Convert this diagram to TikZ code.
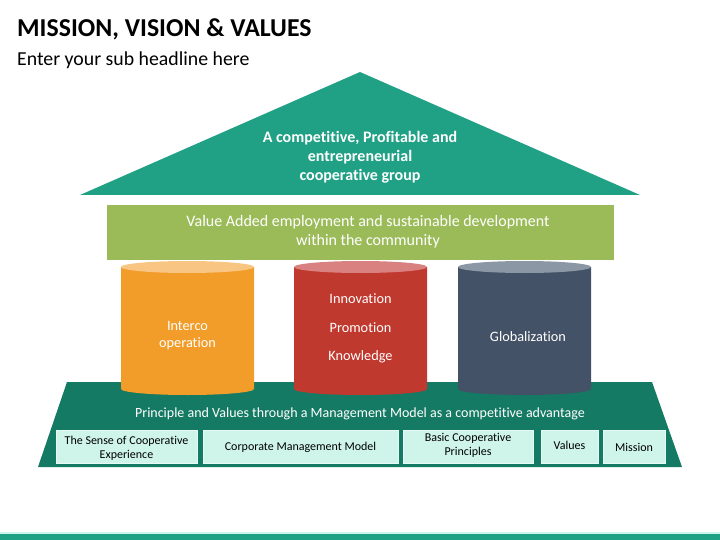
\documentclass[tikz,border=0pt]{standalone}
\usepackage{fontspec}
\setmainfont{Carlito}[Ligatures=NoCommon]
\definecolor{roof}{HTML}{20A085}
\definecolor{beam}{HTML}{9BBB59}
\definecolor{orangeb}{HTML}{F29D29}
\definecolor{oranget}{HTML}{F8C682}
\definecolor{redb}{HTML}{C0392F}
\definecolor{redt}{HTML}{D98080}
\definecolor{slateb}{HTML}{435266}
\definecolor{slatet}{HTML}{8B97A4}
\definecolor{basec}{HTML}{157A63}
\definecolor{boxc}{HTML}{CFF5EA}
\definecolor{boxl}{HTML}{E8FAF4}
\tikzset{
  wtext/.style={text=white, align=center, inner sep=0pt},
  btext/.style={text=black, align=center, inner sep=0pt, font=\fontsize{12}{14}\selectfont},
  pbox/.style={fill=boxc, draw=boxl, line width=0.8pt},
}
\newcommand{\pillar}[4]{%
  \fill[#3] (#1-#2,267) -- (#1-#2,389) arc[start angle=180,end angle=360,x radius=#2 pt,y radius=6pt] -- (#1+#2,267) -- cycle;
  \fill[#4] (#1,267) ellipse[x radius=#2 pt,y radius=6pt];
}
\begin{document}
\begin{tikzpicture}[x=1pt,y=-1pt]
\useasboundingbox (0,0) rectangle (720,540);
% title
\node[anchor=base west, inner sep=0pt, font=\fontsize{25.8}{28}\selectfont\bfseries] (title) at (17,37) {MISSION, VISION \& VALUES};
\node[anchor=base west, inner sep=0pt, font=\fontsize{19.8}{22}\selectfont] (sub) at (17,66) {Enter your sub headline here};
% roof
\fill[roof] (360,72) -- (640,195) -- (80,195) -- cycle;
\node[wtext, font=\fontsize{16}{19}\selectfont\bfseries] (rooftext) at (360,157) {A competitive, Profitable and\\entrepreneurial\\cooperative group};
% beam
\fill[beam] (107,205) rectangle (614,260);
\node[wtext, font=\fontsize{16}{19}\selectfont] (beamtext) at (368,232) {Value Added employment and sustainable development\\within the community};
% base
\fill[basec] (67,382) -- (652,382) -- (682,467) -- (38,467) -- cycle;
% pillars
\pillar{187.5}{66.5}{orangeb}{oranget}
\pillar{360.5}{66.5}{redb}{redt}
\pillar{524.5}{66.5}{slateb}{slatet}
\node[wtext, font=\fontsize{14.3}{17}\selectfont] (p1) at (187.5,336) {Interco\\operation};
\node[wtext, font=\fontsize{14.3}{16}\selectfont] (p2a) at (360.5,299) {Innovation};
\node[wtext, font=\fontsize{14.3}{16}\selectfont] (p2b) at (360.5,328) {Promotion};
\node[wtext, font=\fontsize{14.3}{16}\selectfont] (p2c) at (360.5,357) {Knowledge};
\node[wtext, font=\fontsize{14.3}{16}\selectfont] (p3) at (528,337) {Globalization};
\node[wtext, font=\fontsize{14}{16}\selectfont] (basetext) at (360,414) {Principle and Values through a Management Model as a competitive advantage};
% boxes
\draw[pbox] (56,430) rectangle (197,463);
\draw[pbox] (203,430) rectangle (398,463);
\draw[pbox] (403,430) rectangle (533,463);
\draw[pbox] (541,430) rectangle (598,463);
\draw[pbox] (603,430) rectangle (665,463);
\node[btext] (b1) at (126.5,448) {The Sense of Cooperative\\Experience};
\node[btext] (b2) at (300.5,447) {Corporate Management Model};
\node[btext] (b3) at (468,445) {Basic Cooperative\\Principles};
\node[btext] (b4) at (569.5,445) {Values};
\node[btext] (b5) at (634,447) {Mission};
% bottom strip
\fill[boxc] (0,532) rectangle (720,533.5);
\fill[roof] (0,533.5) rectangle (720,540);
\end{tikzpicture}
\end{document}
